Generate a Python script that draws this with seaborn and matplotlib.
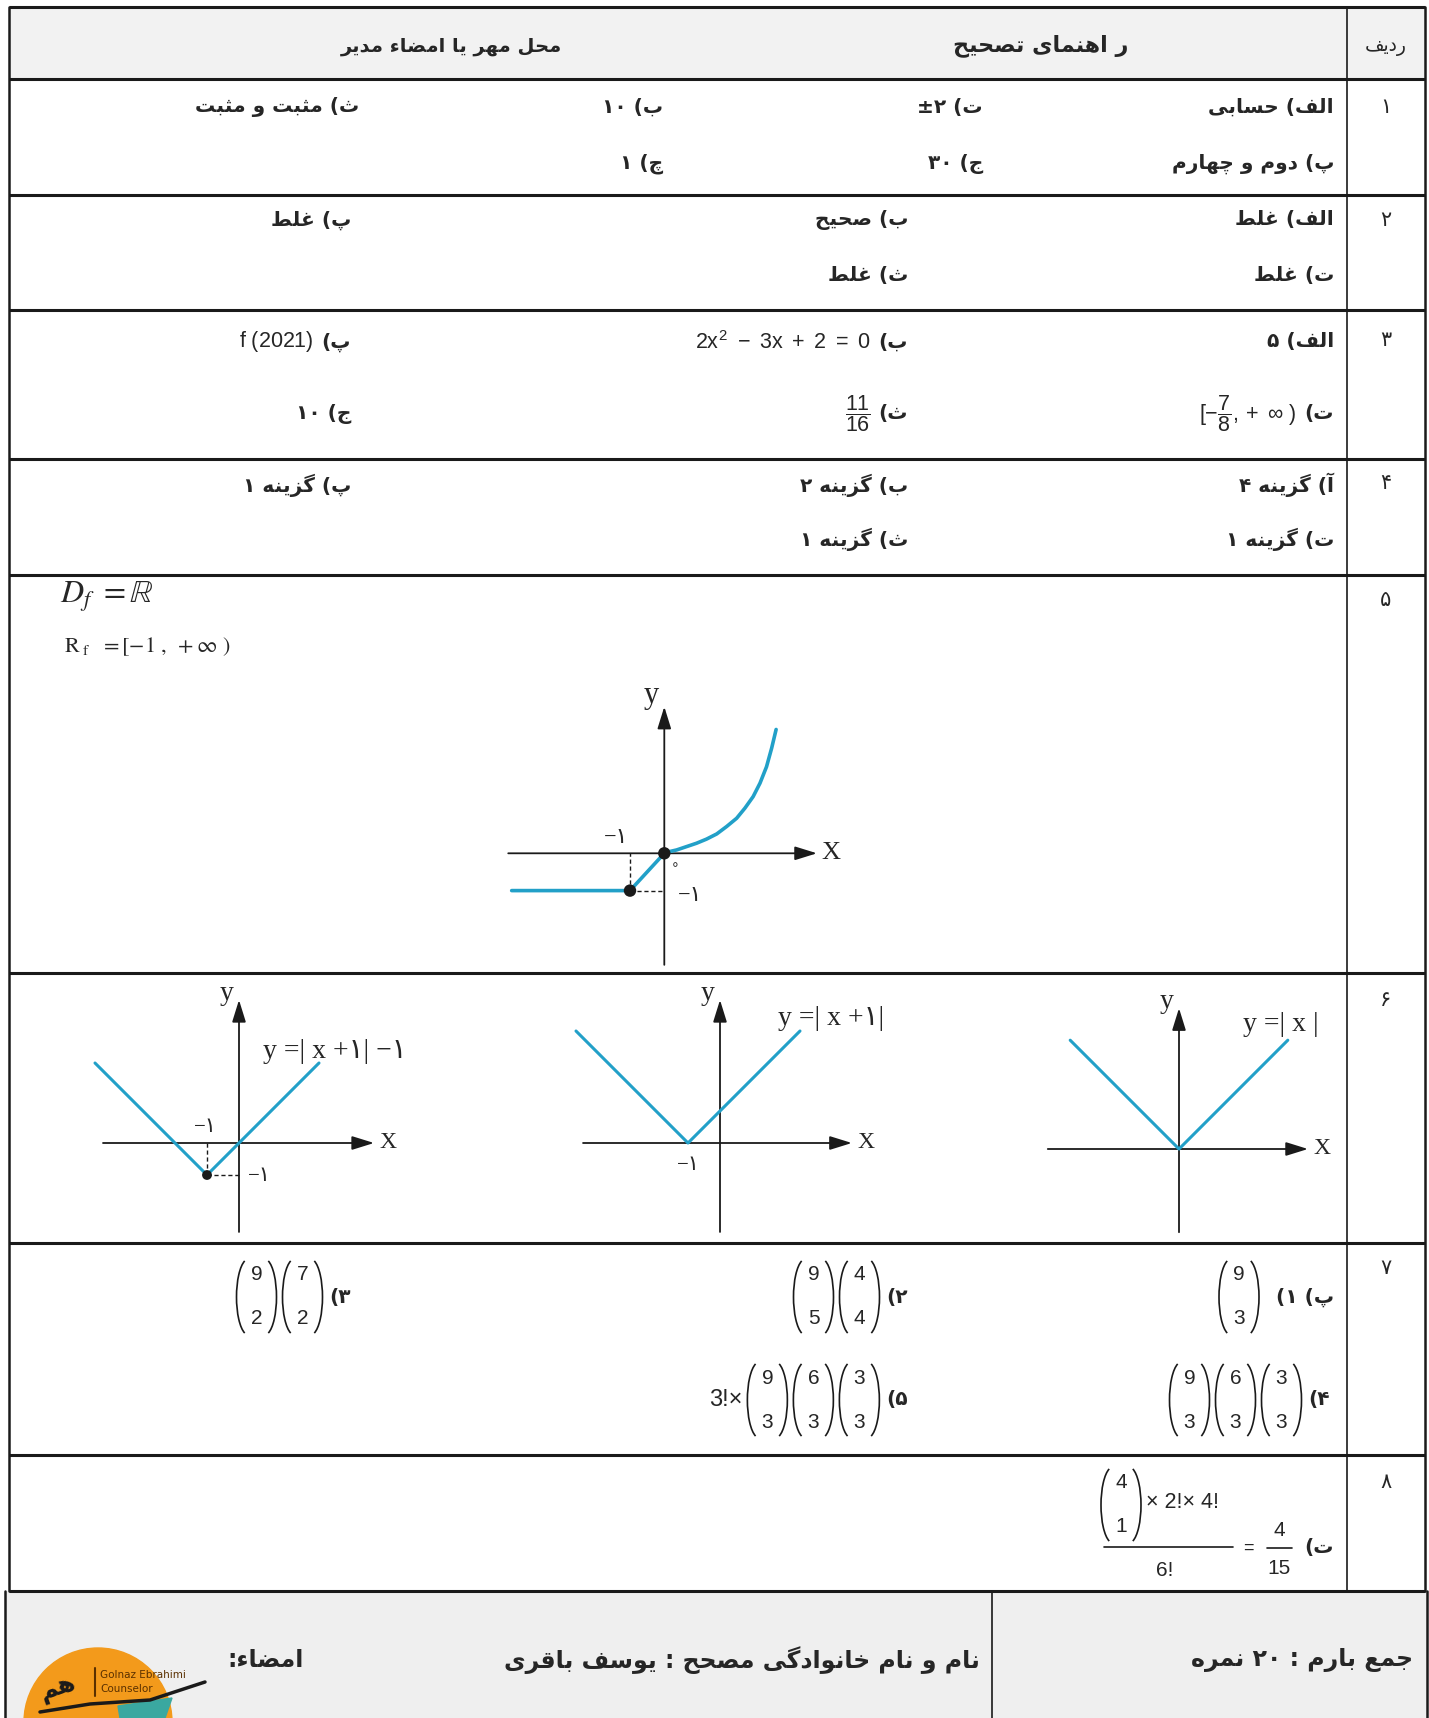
import re
import matplotlib
matplotlib.use('Agg')
import matplotlib.pyplot as plt
import seaborn as sns
from matplotlib.patches import Arc, Rectangle, Circle, Polygon

W, H = 1429, 1718

# table content
row_numbers = ['۱', '۲', '۳', '۴', '۵', '۶', '۷', '۸']
header = ['ردیف', 'ر اهنمای تصحیح', 'محل مهر یا امضاء مدیر']
row1 = [['الف) حسابی', 'ت) ±۲', 'ب) ۱۰', 'ث) مثبت و مثبت'],
        ['پ) دوم و چهارم', 'ج) ۳۰', 'چ) ۱']]
row2 = [['الف) غلط', 'ب) صحیح', 'پ) غلط'],
        ['ت) غلط', 'ث) غلط']]
row3_labels = [['الف)', 'ب)', 'پ)'], ['ت)', 'ث)', 'ج)']]
row3_values = [['۵', r'$2x^{2}\ -\ 3x\ +\ 2\ =\ 0$', r'$f\ (2021)$'],
               [r'$[-\dfrac{7}{8},+\ \infty\ )$', r'$\dfrac{11}{16}$', '۱۰']]
row4 = [['آ) گزینه ۴', 'ب) گزینه ۲', 'پ) گزینه ۱'],
        ['ت) گزینه ۱', 'ث) گزینه ۱']]
domain_text = r'$D_f\ =\mathbb{R}$'
range_text = r'$\mathrm{R}_{\ \mathrm{f}}\ \ =[-1\ ,\ +\infty\ )$'

# row 5 graph
g5_x = [-4.45, -1, 0, 0.17, 0.36, 0.65, 0.94, 1.23, 1.53, 1.82, 2.11, 2.35, 2.59, 2.79, 2.98, 3.13, 3.26]
g5_y = [-1, -1, 0, 0.05, 0.09, 0.18, 0.27, 0.38, 0.52, 0.72, 0.94, 1.21, 1.52, 1.88, 2.32, 2.82, 3.32]
g5_dots_x = [-1, 0]
g5_dots_y = [-1, 0]

# row 6 graphs
v_titles = ['y =| x +۱| −۱', 'y =| x +۱|', 'y =| x |']
v_x = [[-4.5, -1, 2.5], [-4.5, -1, 2.5], [-3.4, 0, 3.4]]
v_y = [[2.5, -1, 2.5], [3.5, 0, 3.5], [3.4, 0, 3.4]]

# row 7 binomials
row7_labels = ['پ) ۱)', '۲)', '۳)', '۴)', '۵)']
row7_binoms = [[(9, 3)], [(9, 5), (4, 4)], [(9, 2), (7, 2)],
               [(9, 3), (6, 3), (3, 3)], [(9, 3), (6, 3), (3, 3)]]
row7_prefix = ['', '', '', '', '3!×']

# row 8
row8_label = 'ت)'
row8_binom = (4, 1)
row8_num = '× 2!× 4!'
row8_den = '6!'
row8_result = ('4', '15')

footer = ['جمع بارم : ۲۰ نمره', 'نام و نام خانوادگی مصحح : یوسف باقری', 'امضاء:']

TEAL = '#22a0c8'
INK = '#1a1a1a'

# --- persian shaping (matplotlib has no text shaping) ---
FORMS = {
    'ا': ('\uFE8D', '\uFE8E', None, None), 'آ': ('\uFE81', '\uFE82', None, None),
    'ب': ('\uFE8F', '\uFE90', '\uFE91', '\uFE92'), 'پ': ('\uFB56', '\uFB57', '\uFB58', '\uFB59'),
    'ت': ('\uFE95', '\uFE96', '\uFE97', '\uFE98'), 'ث': ('\uFE99', '\uFE9A', '\uFE9B', '\uFE9C'),
    'ج': ('\uFE9D', '\uFE9E', '\uFE9F', '\uFEA0'), 'چ': ('\uFB7A', '\uFB7B', '\uFB7C', '\uFB7D'),
    'ح': ('\uFEA1', '\uFEA2', '\uFEA3', '\uFEA4'), 'خ': ('\uFEA5', '\uFEA6', '\uFEA7', '\uFEA8'),
    'د': ('\uFEA9', '\uFEAA', None, None), 'ذ': ('\uFEAB', '\uFEAC', None, None),
    'ر': ('\uFEAD', '\uFEAE', None, None), 'ز': ('\uFEAF', '\uFEB0', None, None),
    'ژ': ('\uFB8A', '\uFB8B', None, None),
    'س': ('\uFEB1', '\uFEB2', '\uFEB3', '\uFEB4'), 'ش': ('\uFEB5', '\uFEB6', '\uFEB7', '\uFEB8'),
    'ص': ('\uFEB9', '\uFEBA', '\uFEBB', '\uFEBC'), 'ض': ('\uFEBD', '\uFEBE', '\uFEBF', '\uFEC0'),
    'ط': ('\uFEC1', '\uFEC2', '\uFEC3', '\uFEC4'), 'ظ': ('\uFEC5', '\uFEC6', '\uFEC7', '\uFEC8'),
    'ع': ('\uFEC9', '\uFECA', '\uFECB', '\uFECC'), 'غ': ('\uFECD', '\uFECE', '\uFECF', '\uFED0'),
    'ف': ('\uFED1', '\uFED2', '\uFED3', '\uFED4'), 'ق': ('\uFED5', '\uFED6', '\uFED7', '\uFED8'),
    'ک': ('\uFB8E', '\uFB8F', '\uFB90', '\uFB91'), 'گ': ('\uFB92', '\uFB93', '\uFB94', '\uFB95'),
    'ل': ('\uFEDD', '\uFEDE', '\uFEDF', '\uFEE0'), 'م': ('\uFEE1', '\uFEE2', '\uFEE3', '\uFEE4'),
    'ن': ('\uFEE5', '\uFEE6', '\uFEE7', '\uFEE8'), 'و': ('\uFEED', '\uFEEE', None, None),
    'ه': ('\uFEE9', '\uFEEA', '\uFEEB', '\uFEEC'), 'ی': ('\uFBFC', '\uFBFD', '\uFBFE', '\uFBFF'),
    'ء': ('\uFE80', '\uFE80', None, None),
}
LTR_RUN = re.compile('([0-9A-Za-z\u06F0-\u06F9\u00B1]+)')
MIRROR = str.maketrans('()[]', ')(][')


def shape(s):
    out = []
    for i, c in enumerate(s):
        if c not in FORMS:
            out.append(c)
            continue
        iso, fin, ini, med = FORMS[c]
        prev = s[i - 1] if i > 0 else ''
        nxt = s[i + 1] if i + 1 < len(s) else ''
        jp = prev in FORMS and FORMS[prev][2] is not None
        jn = ini is not None and nxt in FORMS and nxt != 'ء'
        out.append(med if jp and jn else fin if jp else ini if jn else iso)
    return ''.join(out)


def fa(s):
    parts = LTR_RUN.split(shape(s))
    out = []
    for k, p in enumerate(reversed(parts)):
        idx = len(parts) - 1 - k
        out.append(p if idx % 2 else p[::-1].translate(MIRROR))
    return ''.join(out)


sns.set_theme(style='white')
plt.rcParams['font.family'] = ['DejaVu Sans']
plt.rcParams['mathtext.fontset'] = 'custom'
plt.rcParams['mathtext.rm'] = 'Liberation Sans'
plt.rcParams['mathtext.it'] = 'Liberation Sans'
plt.rcParams['mathtext.bf'] = 'Liberation Sans:bold'

fig = plt.figure(figsize=(W / 100, H / 100), dpi=100)
fig.patch.set_facecolor('white')
ax = fig.add_axes([0, 0, 1, 1])
ax.set_xlim(0, W)
ax.set_ylim(H, 0)
ax.set_axis_off()
renderer = fig.canvas.get_renderer()

# table frame
L, R, RC = 9, 1425, 1347
row_lines = [7, 79, 195, 310, 459, 575, 973, 1243, 1455, 1591]
ax.add_patch(Rectangle((L, 7), R - L, 72, color='#f2f2f2', zorder=0))
ax.add_patch(Rectangle((5, 1591), R + 2 - 5, H - 1591, color='#efefef', zorder=0))
for y in row_lines:
    ax.plot([L, R], [y, y], color=INK, lw=2.2, solid_capstyle='butt')
ax.plot([L, L], [7, 1591], color=INK, lw=1.8)
ax.plot([R, R], [7, 1591], color=INK, lw=1.8)
ax.plot([RC, RC], [7, 1591], color=INK, lw=1.2)
ax.plot([5, 5], [1591, H], color=INK, lw=1.8)
ax.plot([R + 2, R + 2], [1591, H], color=INK, lw=1.8)
ax.plot([992, 992], [1591, H], color=INK, lw=1.2)

# header
ax.text(1386, 46, fa(header[0]), ha='center', va='center', fontsize=13.5)
ax.text(1041, 46, fa(header[1]), ha='center', va='center', fontsize=16, fontweight='bold')
ax.text(451, 46, fa(header[2]), ha='center', va='center', fontsize=14, fontweight='bold')

# row numbers
num_y = [107, 220, 340, 483, 600, 1000, 1268, 1482]
for n, y in zip(row_numbers, num_y):
    ax.text(1386, y, n, ha='center', va='center', fontsize=15)

FS = 14.5


def put(text, xr, y, **kw):
    return ax.text(xr, y, fa(text), ha='right', va='center', fontweight='bold',
                   fontsize=kw.pop('fontsize', FS), **kw)


# row 1
for line, y in zip(row1, [107, 164]):
    for t, xr in zip(line, [1334, 983, 663, 359]):
        put(t, xr, y)
# row 2
for line, y in zip(row2, [220, 275]):
    for t, xr in zip(line, [1334, 908, 351]):
        put(t, xr, y)
# row 3
for labels, values, y in zip(row3_labels, row3_values, [342, 414]):
    for lab, val, xr in zip(labels, values, [1334, 908, 351]):
        if val.startswith('$'):
            t = put(lab, xr, y)
            x0 = t.get_window_extent(renderer).x0
            ax.text(x0 - 8, y, val, ha='right', va='center', fontsize=15.5)
        else:
            put(lab + ' ' + val, xr, y)
# row 4
for line, y in zip(row4, [485, 539]):
    for t, xr in zip(line, [1334, 908, 351]):
        put(t, xr, y)

# row 5 text
ax.text(60, 597, domain_text, ha='left', va='center', fontsize=23, math_fontfamily='stix')
ax.text(64, 647, range_text, ha='left', va='center', fontsize=16, math_fontfamily='stix')

ARROW = dict(arrowstyle='-|>,head_length=0.9,head_width=0.28', color=INK, lw=1.3,
             mutation_scale=15, shrinkA=0, shrinkB=0)
SERIF = ['Liberation Serif', 'DejaVu Sans']


def graph_axes(origin, unit, box):
    ox, oy = origin
    x0, y0, x1, y1 = box
    g = fig.add_axes([x0 / W, 1 - y1 / H, (x1 - x0) / W, (y1 - y0) / H])
    g.set_xlim((x0 - ox) / unit[0], (x1 - ox) / unit[0])
    g.set_ylim((oy - y1) / unit[1], (oy - y0) / unit[1])
    g.set_axis_off()
    return g


def draw_axes(g, xr, yr, ylab, xlab, fs):
    g.annotate('', xy=(xr[1], 0), xytext=(xr[0], 0), arrowprops=ARROW)
    g.annotate('', xy=(0, yr[1]), xytext=(0, yr[0]), arrowprops=ARROW)
    g.text(ylab[0], ylab[1], 'y', ha='center', va='center', fontsize=fs + 3, family=SERIF)
    g.text(xlab, 0, 'X', ha='center', va='center', fontsize=fs, family=SERIF)


# row 5 graph
g5 = graph_axes((664.3, 853.3), (34.3, 37.3), (495, 680, 860, 975))
draw_axes(g5, (-4.55, 4.45), (-2.99, 3.93), (-0.38, 4.22), 4.85, 19)
g5.plot([-1, -1], [-1, 0], color=INK, lw=1, ls=(0, (3, 2)))
g5.plot([-1, 0], [-1, -1], color=INK, lw=1, ls=(0, (3, 2)))
sns.lineplot(x=g5_x, y=g5_y, ax=g5, color=TEAL, lw=2.6, zorder=3)
sns.scatterplot(x=g5_dots_x, y=g5_dots_y, ax=g5, color='k', s=80, zorder=4, edgecolor='none')
g5.text(-1.4, 0.4, '−۱', ha='center', va='center', fontsize=16, family=SERIF)
g5.text(0.75, -1.16, '−۱', ha='center', va='center', fontsize=16, family=SERIF)
g5.text(0.3, -0.32, '∘', ha='center', va='center', fontsize=10)

# row 6 graphs
v_origin = [(239, 1143), (720, 1143), (1179, 1149)]
v_box = [(85, 980, 430, 1240), (565, 980, 925, 1240), (1035, 985, 1345, 1240)]
v_xr = [(-4.25, 4.22), (-4.28, 4.12), (-4.1, 4.03)]
v_yr = [(-2.78, 4.47), (-2.78, 4.47), (-2.6, 4.4)]
v_tpos = [(0.75, 2.85), (1.8, 3.9), (2.0, 3.9)]
for i in range(3):
    g = graph_axes(v_origin[i], (32, 32), v_box[i])
    draw_axes(g, v_xr[i], v_yr[i], (-0.38, v_yr[i][1] + 0.2), v_xr[i][1] + 0.45, 17)
    sns.lineplot(x=v_x[i], y=v_y[i], ax=g, color=TEAL, lw=2.2, zorder=3)
    g.text(v_tpos[i][0], v_tpos[i][1], v_titles[i], ha='left', va='center',
           fontsize=20, family=SERIF)
    if i == 0:
        g.plot([-1, -1], [-1, 0], color=INK, lw=1, ls=(0, (3, 2)))
        g.plot([-1, 0], [-1, -1], color=INK, lw=1, ls=(0, (3, 2)))
        sns.scatterplot(x=[-1], y=[-1], ax=g, color='k', s=50, zorder=4, edgecolor='none')
        g.text(-1.05, 0.5, '−۱', ha='center', va='center', fontsize=15, family=SERIF)
        g.text(0.65, -1.05, '−۱', ha='center', va='center', fontsize=15, family=SERIF)
    if i == 1:
        g.text(-1.0, -0.7, '−۱', ha='center', va='center', fontsize=15, family=SERIF)


# binomials drawn as stacked digits with tall parentheses
def binom(cx, cy, top, bot, fs=15):
    ax.text(cx, cy - 22, str(top), ha='center', va='center', fontsize=fs, family='Liberation Sans')
    ax.text(cx, cy + 22, str(bot), ha='center', va='center', fontsize=fs, family='Liberation Sans')
    ax.add_patch(Arc((cx - 8, cy), 24, 76, theta1=96, theta2=264, color=INK, lw=1.2))
    ax.add_patch(Arc((cx + 8, cy), 24, 76, theta1=-84, theta2=84, color=INK, lw=1.2))


row7_anchor = [(1334, 1297), (908, 1297), (351, 1297), (1330, 1400), (908, 1400)]
row7_gap = [16, 6, 6, 6, 6]
for lab, bins, pre, (xr, y), gap in zip(row7_labels, row7_binoms, row7_prefix, row7_anchor, row7_gap):
    t = put(lab, xr, y)
    x = t.get_window_extent(renderer).x0 - gap
    for top, bot in reversed(bins):
        binom(x - 21, y, top, bot)
        x -= 46
    if pre:
        ax.text(x, y, pre, ha='right', va='center', fontsize=17, family='Liberation Sans')

# row 8
put(row8_label, 1334, 1547)
binom(1121, 1505, *row8_binom)
ax.text(1146, 1503, row8_num, ha='left', va='center', fontsize=15.5, family='Liberation Sans')
ax.plot([1104, 1233], [1547, 1547], color=INK, lw=1.2)
ax.text(1165, 1570, row8_den, ha='center', va='center', fontsize=15, family='Liberation Sans')
ax.text(1248, 1548, '=', ha='center', va='center', fontsize=13, family='Liberation Sans')
ax.text(1279, 1530, row8_result[0], ha='center', va='center', fontsize=15, family='Liberation Sans')
ax.plot([1267, 1292], [1548, 1548], color=INK, lw=1.2)
ax.text(1279, 1568, row8_result[1], ha='center', va='center', fontsize=15, family='Liberation Sans')

# footer
ax.text(1413, 1660, fa(footer[0]), ha='right', va='center', fontsize=17, fontweight='bold')
ax.text(742, 1660, fa(footer[1]), ha='center', va='center', fontsize=17, fontweight='bold')
ax.text(304, 1660, fa(footer[2]), ha='right', va='center', fontsize=17, fontweight='bold')

# small logo in the corner
ax.add_patch(Circle((98, 1722), 74, color='#f39a1b', zorder=2))
ax.add_patch(Polygon([[118, 1706], [172, 1698], [165, 1718], [120, 1718]], color='#3aa8a0', zorder=3))
ax.plot([95, 95], [1668, 1696], color='#5a3000', lw=1.5, zorder=3)
ax.text(100, 1675, 'Golnaz Ebrahimi', fontsize=7.5, color='#5a3000', va='center', zorder=3)
ax.text(100, 1689, 'Counselor', fontsize=7.5, color='#5a3000', va='center', zorder=3)
ax.text(58, 1688, fa('هم'), fontsize=18, fontweight='bold', color='k', ha='center',
        va='center', rotation=20, zorder=3)
ax.plot([40, 90, 150, 205], [1712, 1704, 1700, 1682], color='k', lw=2.5, zorder=4)

fig.savefig('out.png', dpi=100, facecolor='white')
